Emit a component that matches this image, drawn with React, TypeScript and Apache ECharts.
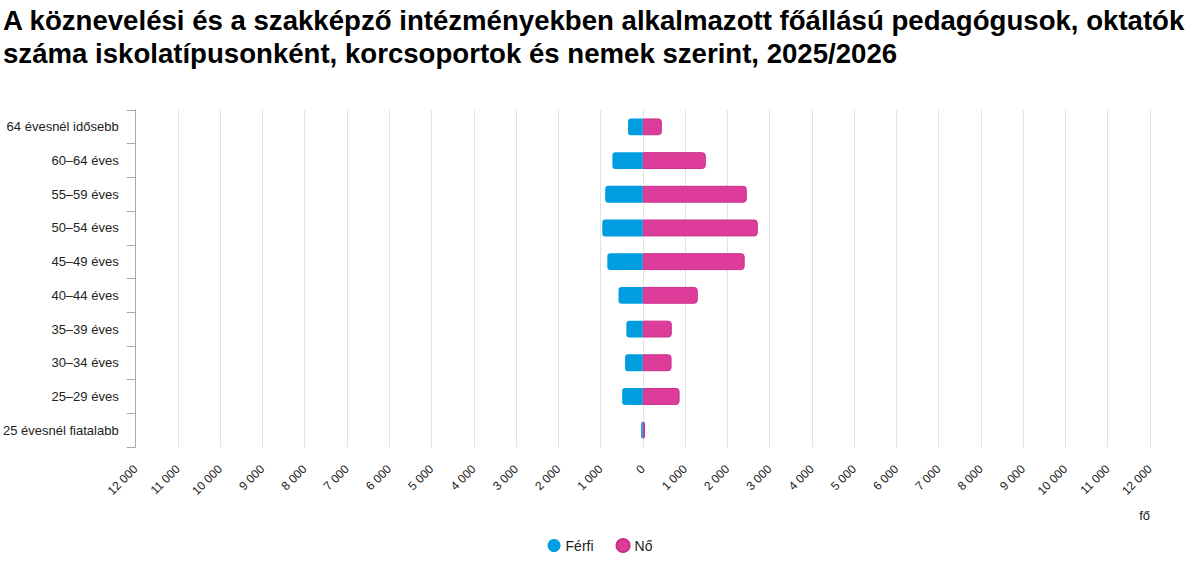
import React, { useEffect, useRef } from "react";
import * as echarts from "echarts";

const categories = [
  "25 évesnél fiatalabb",
  "25–29 éves",
  "30–34 éves",
  "35–39 éves",
  "40–44 éves",
  "45–49 éves",
  "50–54 éves",
  "55–59 éves",
  "60–64 éves",
  "64 évesnél idősebb",
];
const ferfi = [40, 490, 420, 390, 575, 840, 960, 890, 720, 350];
const no = [50, 870, 680, 685, 1300, 2410, 2720, 2460, 1490, 450];

const titleLines = [
  "A köznevelési és a szakképző intézményekben alkalmazott főállású pedagógusok, oktatók",
  "száma iskolatípusonként, korcsoportok és nemek szerint, 2025/2026",
];

const fmt = (v: number) => {
  const a = Math.abs(Math.round(v));
  return String(a).replace(/\B(?=(\d{3})+(?!\d))/g, " ");
};

export default function App() {
  const ref = useRef<HTMLDivElement>(null);
  useEffect(() => {
    document.body.style.margin = "0";
    if (!ref.current) return;
    const chart = echarts.init(ref.current, null, { renderer: "svg" });
    const font = "Liberation Sans, Arial, sans-serif";
    chart.setOption({
      animation: false,
      textStyle: { fontFamily: font },
      title: {
        text: titleLines.join("\n"),
        left: 3,
        top: 4,
        padding: 0,
        textStyle: {
          fontFamily: font,
          fontSize: 27.6,
          fontWeight: "bold",
          color: "#000",
          lineHeight: 33,
        },
      },
      grid: { left: 133, right: 50, top: 110, bottom: 122, containLabel: false },
      legend: {
        bottom: 11,
        left: "center",
        icon: "circle",
        itemWidth: 13,
        itemHeight: 13,
        itemGap: 22,
        textStyle: { fontFamily: font, fontSize: 14, color: "#222" },
        data: ["Férfi", "Nő"],
      },
      xAxis: {
        type: "value",
        min: -12000,
        max: 12000,
        interval: 1000,
        axisLine: { show: false },
        axisTick: { show: false },
        splitLine: { show: true, lineStyle: { color: "#e3e3e3", width: 1 } },
        axisLabel: {
          rotate: 45,
          margin: 20,
          fontSize: 12,
          color: "#222",
          fontFamily: font,
          formatter: (v: number) => fmt(v),
        },
      },
      yAxis: {
        type: "category",
        data: categories,
        position: "left",
        axisLine: { show: true, onZero: false, lineStyle: { color: "#aaa" } },
        axisTick: { show: true, length: 9, lineStyle: { color: "#aaa" } },
        axisLabel: { margin: 17, fontSize: 13, color: "#222", fontFamily: font },
        splitLine: { show: false },
      },
      graphic: [
        {
          type: "text",
          right: 50,
          top: 509,
          style: { text: "fő", fontSize: 13, fill: "#222", fontFamily: font },
        },
      ],
      series: [
        {
          name: "Férfi",
          type: "bar",
          stack: "t",
          barWidth: "50%",
          data: ferfi.map((v) => -v),
          itemStyle: { color: "#009EE0", borderRadius: [3, 0, 0, 3] },
        },
        {
          name: "Nő",
          type: "bar",
          stack: "t",
          barWidth: "50%",
          data: no,
          itemStyle: {
            color: "#DE3C9B",
            borderColor: "#c83088",
            borderWidth: 1,
            borderRadius: [0, 3, 3, 0],
          },
        },
      ],
    });
    return () => chart.dispose();
  }, []);
  return <div ref={ref} style={{ width: 1200, height: 569 }} />;
}
